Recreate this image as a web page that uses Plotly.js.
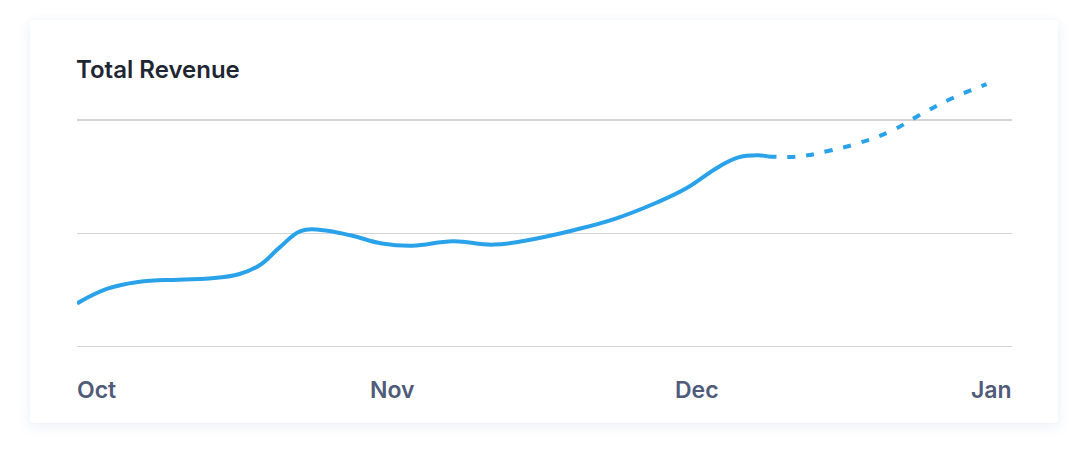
<!DOCTYPE html>
<html>
<head>
<meta charset="utf-8">
<script src="https://cdn.plot.ly/plotly-3.0.1.min.js"></script>
<style>
  html, body { margin: 0; padding: 0; background: #ffffff; }
  #wrap { position: relative; width: 1088px; height: 460px; overflow: hidden; }
  #card { position: absolute; left: 30px; top: 20px; width: 1028px; height: 403px;
          background: #ffffff; border-radius: 3px;
          box-shadow: 0 3px 14px rgba(40, 80, 140, 0.09), 0 0 2px rgba(40, 80, 140, 0.06); }
  #chart { position: absolute; left: 0; top: 0; width: 1088px; height: 460px; }
</style>
</head>
<body>
<div id="wrap">
  <div id="card"></div>
  <div id="chart"></div>
</div>
<script>
// Actual revenue (solid line)
const actualDates = ['2023-10-01','2023-10-04','2023-10-07','2023-10-11','2023-10-14','2023-10-17',
  '2023-10-19','2023-10-21','2023-10-23','2023-10-25','2023-10-28','2023-10-31','2023-11-03',
  '2023-11-07','2023-11-11','2023-11-15','2023-11-19','2023-11-23','2023-11-27','2023-11-30',
  '2023-12-03','2023-12-05','2023-12-07','2023-12-08'];
const actualValues = [3.8, 5.1, 5.7, 5.9, 6.0, 6.4,
  7.2, 8.8, 10.2, 10.3, 9.8, 9.1, 8.9,
  9.3, 9.0, 9.5, 10.3, 11.3, 12.7, 14.0,
  15.8, 16.7, 16.9, 16.8];
// Forecast revenue (dotted line)
const forecastDates = ['2023-12-08','2023-12-11','2023-12-14','2023-12-17','2023-12-20',
  '2023-12-23','2023-12-26','2023-12-29 12:00'];
const forecastValues = [16.8, 16.8, 17.3, 18.0, 19.0, 20.5, 21.9, 23.2];
// Axis labels
const monthTicks = ['2023-10-01','2023-11-01','2023-12-01','2024-01-01'];
const monthLabels = ['Oct','Nov','Dec','Jan'];
const gridValues = [0, 10, 20];
const titleText = 'Total Revenue';

const lineColor = '#2aa2e9';
const labelFont = {family: 'Inter, "Open Sans", sans-serif', size: 23, color: '#4f5b78', weight: 600};

const traces = [
  {x: actualDates, y: actualValues, type: 'scatter', mode: 'lines',
   line: {color: lineColor, width: 4, shape: 'spline', smoothing: 1.2}, hoverinfo: 'skip'},
  {x: forecastDates, y: forecastValues, type: 'scatter', mode: 'lines',
   line: {color: lineColor, width: 4, shape: 'spline', smoothing: 1.2, dash: '8px,11px'}, hoverinfo: 'skip'}
];

const anchors = ['left', 'center', 'center', 'right'];
const shifts = [-2, 0, 0, 2];
const annotations = monthLabels.map((t, i) => ({
  x: monthTicks[i], xref: 'x', y: 0, yref: 'paper', yanchor: 'middle', yshift: -21,
  xanchor: anchors[i], xshift: shifts[i], text: t, showarrow: false, font: labelFont
}));

const layout = {
  width: 1088, height: 460,
  paper_bgcolor: 'rgba(0,0,0,0)', plot_bgcolor: 'rgba(0,0,0,0)',
  margin: {l: 77, r: 76, t: 75, b: 91},
  showlegend: false,
  title: {text: titleText, x: 76/1088, xref: 'container', xanchor: 'left',
          y: 1 - 70/460, yref: 'container', yanchor: 'middle',
          font: {family: 'Inter, "Open Sans", sans-serif', size: 24, color: '#1f2633', weight: 600}},
  xaxis: {type: 'date', range: ['2023-10-01', '2024-01-01'], showgrid: false, zeroline: false,
          showticklabels: false, ticks: '', showline: false, fixedrange: true},
  yaxis: {range: [-2, 24], tickvals: gridValues, showgrid: true, gridcolor: '#d4d4d4', gridwidth: 1.5,
          zeroline: false, showticklabels: false, ticks: '', showline: false, fixedrange: true},
  annotations: annotations
};

Plotly.newPlot('chart', traces, layout, {displayModeBar: false, staticPlot: true});
</script>
</body>
</html>
